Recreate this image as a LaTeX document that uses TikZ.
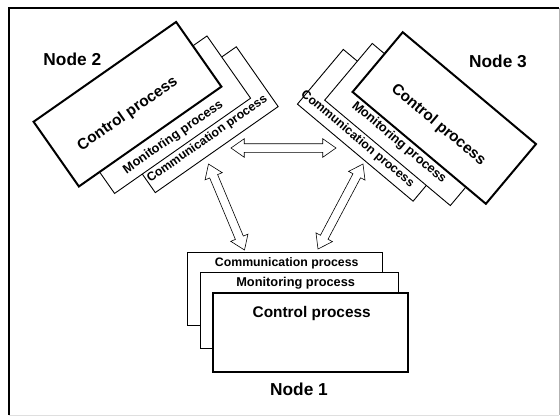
\documentclass[tikz,border=0pt]{standalone}
\usepackage{fontspec}
\setmainfont{Liberation Sans}
\usetikzlibrary{shapes.arrows,calc}
\newcommand\fatarrow[3]{%
  \path let \p1=(#1), \p2=(#2),
    \n1={atan2(\y2-\y1,\x2-\x1)},
    \n2={veclen(\x2-\x1,\y2-\y1)} in
    node[fatarr, minimum height=\n2, rotate=\n1] (#3) at ($(#1)!0.5!(#2)$) {};}
\begin{document}
\begin{tikzpicture}[x=1pt,y=-1pt,
  pbox/.style={draw, fill=white, line width=0.9pt, inner sep=0pt},
  cbox/.style={draw, fill=white, line width=2pt, inner sep=0pt},
  commtxt/.style={font=\bfseries\fontsize{12.3}{13}\selectfont, inner sep=0pt},
  montxt/.style={font=\bfseries\fontsize{12.8}{13}\selectfont, inner sep=0pt},
  ctrltxt/.style={font=\bfseries\fontsize{15.4}{16}\selectfont, inner sep=0pt},
  nodetxt/.style={font=\bfseries\fontsize{17.3}{18}\selectfont, inner sep=0pt},
  fatarr/.style={double arrow, draw, fill=white, line width=0.6pt,
    inner xsep=0pt, inner ysep=4pt,
    double arrow head extend=5pt, double arrow tip angle=70},
]
\useasboundingbox (0,0) rectangle (560,416);
% frame
\draw[gray!60, line width=0.8pt] (559,8) -- (559,415);
\draw[gray!25, line width=0.8pt] (9,415) -- (559,415);
\draw[line width=1.6pt] (9,415) -- (9,8) -- (559,8);

% Node 1
\node[pbox, minimum width=194.3, minimum height=72.3] (c1) at (284.85,288.85) {};
\node[commtxt] (c1t) at (286.7,263.3) {Communication process};
\node[pbox, minimum width=198, minimum height=75.3] (m1) at (299.7,310.35) {};
\node[montxt] (m1t) at (295.7,283.3) {Monitoring process};
\node[cbox, minimum width=195.6, minimum height=79.6] (k1) at (310.5,332.5) {};
\node[ctrltxt] (k1t) at (311.7,314) {Control process};
\node[nodetxt] (n1) at (299,389) {Node 1};

% Node 2
\node[pbox, rotate=35, minimum width=150, minimum height=73] (c2) at (195.8,119.7) {};
\node[commtxt, rotate=35] (c2t) at (207.3,139) {Communication process};
\node[pbox, rotate=35, minimum width=166, minimum height=76] (m2) at (160.8,114.7) {};
\node[montxt, rotate=35] (m2t) at (173.3,137.3) {Monitoring process};
\node[cbox, rotate=35, minimum width=174, minimum height=79] (k2) at (127.5,104.2) {};
\node[ctrltxt, rotate=35] (k2t) at (127.7,114) {Control process};
\node[nodetxt] (n2) at (72.3,59.3) {Node 2};

% Node 3
\node[pbox, rotate=-40, minimum width=151, minimum height=71.4] (c3) at (378.2,125.3) {};
\node[commtxt, rotate=-40] (c3t) at (357.5,139) {Communication process};
\node[pbox, rotate=-40, minimum width=164, minimum height=74] (m3) at (411.3,124.5) {};
\node[montxt, rotate=-40] (m3t) at (399,142.7) {Monitoring process};
\node[cbox, rotate=-40, minimum width=174, minimum height=78] (k3) at (444.3,118) {};
\node[ctrltxt, rotate=-40] (k3t) at (438.3,125) {Control process};
\node[nodetxt] (n3) at (498,61.7) {Node 3};

% arrows
\coordinate (h2) at (231,148);
\coordinate (h3) at (336,148);
\coordinate (l2) at (208.5,164);
\coordinate (l1) at (244.5,250);
\coordinate (r3) at (363,164);
\coordinate (r1) at (318,249);
\fatarrow{h2}{h3}{a23}
\fatarrow{l2}{l1}{a21}
\fatarrow{r3}{r1}{a31}
\end{tikzpicture}
\end{document}
